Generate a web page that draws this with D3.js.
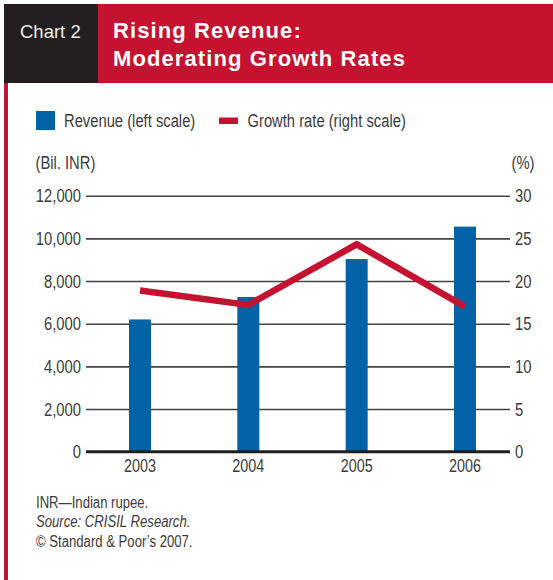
<!DOCTYPE html>
<html>
<head>
<meta charset="utf-8">
<script src="https://cdn.jsdelivr.net/npm/d3@7"></script>
<style>
  body { margin: 0; background: #fff; }
  svg { display: block; }
  .narrow { font-family: "Liberation Sans", Arial, sans-serif; }
</style>
</head>
<body>
<div id="chart"></div>
<script>
// chart data
var years = ["2003", "2004", "2005", "2006"];
var revenue = [6200, 7250, 9030, 10550];      // Bil. INR, left scale
var growth = [18.9, 17.2, 24.3, 17.0];        // %, right scale
var leftTicks = [0, 2000, 4000, 6000, 8000, 10000, 12000];
var rightTicks = [0, 5, 10, 15, 20, 25, 30];

var W = 553, H = 580;
var red = "#c41230", blue = "#0063a6", dark = "#231f20", ink = "#3b3b3b";

var svg = d3.select("#chart").append("svg")
  .attr("width", W).attr("height", H);

// header
svg.append("rect").attr("x", 4).attr("y", 4).attr("width", 94).attr("height", 79).attr("fill", dark);
svg.append("rect").attr("x", 98).attr("y", 4).attr("width", W - 98).attr("height", 79).attr("fill", red);
svg.append("rect").attr("x", 4).attr("y", 83).attr("width", 4).attr("height", H - 83).attr("fill", red);

svg.append("text").attr("x", 20).attr("y", 38.3)
  .attr("fill", "#ececec")
  .style("font-family", "'Liberation Sans', Arial, sans-serif")
  .style("font-size", "18.5px")
  .text("Chart 2");

var title = svg.append("text")
  .attr("fill", "#fff")
  .style("font-family", "'Liberation Sans', Arial, sans-serif")
  .style("font-size", "22px").style("font-weight", "bold")
  .style("letter-spacing", "1.1px");
title.append("tspan").attr("x", 113).attr("y", 37.7).text("Rising Revenue:");
title.append("tspan").attr("x", 113).attr("y", 65.5).text("Moderating Growth Rates");

// legend
svg.append("rect").attr("x", 36).attr("y", 111).attr("width", 19).attr("height", 19).attr("fill", blue);
svg.append("text").attr("class", "narrow").attr("x", 64).attr("y", 127.3)
  .attr("fill", ink).style("font-size", "18px").text("Revenue (left scale)");
svg.append("rect").attr("x", 219).attr("y", 117.5).attr("width", 19).attr("height", 6.5).attr("fill", red);
svg.append("text").attr("class", "narrow").attr("x", 247.5).attr("y", 127.3)
  .attr("fill", ink).style("font-size", "18px").text("Growth rate (right scale)");

// axis units
svg.append("text").attr("class", "narrow").attr("x", 35.5).attr("y", 168.5)
  .attr("fill", ink).style("font-size", "18px").text("(Bil. INR)");
svg.append("text").attr("class", "narrow").attr("x", 511.5).attr("y", 169)
  .attr("fill", ink).style("font-size", "18px").text("(%)");

// scales
var x0 = 86, x1 = 510;
var x = d3.scalePoint().domain(years).range([140, 465]);
var yL = d3.scaleLinear().domain([0, 12000]).range([451.7, 195.7]);
var yR = d3.scaleLinear().domain([0, 30]).range([451.7, 195.7]);

// left axis with gridlines
var gl = svg.append("g").attr("class", "narrow").attr("transform", "translate(" + x0 + ",0)")
  .call(d3.axisLeft(yL).tickValues(leftTicks).tickSizeInner(-(x1 - x0)).tickSizeOuter(0)
    .tickPadding(5).tickFormat(d3.format(",")));
gl.select(".domain").remove();
gl.selectAll(".tick line").attr("stroke", "#444").attr("stroke-width", 1.6);
gl.selectAll(".tick text").attr("fill", ink).style("font-size", "18px").attr("dy", "0.34em");

// right axis labels
var gr = svg.append("g").attr("class", "narrow").attr("transform", "translate(" + x1 + ",0)")
  .call(d3.axisRight(yR).tickValues(rightTicks).tickSize(0).tickPadding(5));
gr.select(".domain").remove();
gr.selectAll(".tick text").attr("fill", ink).style("font-size", "18px").attr("dy", "0.34em");

// bars
var bw = 22;
svg.selectAll(".bar")
  .data(revenue)
  .enter()
  .append("rect")
  .attr("class", "bar")
  .attr("x", function (d, i) { return x(years[i]) - bw / 2; })
  .attr("y", function (d) { return yL(d); })
  .attr("width", bw)
  .attr("height", function (d) { return yL(0) - yL(d); })
  .attr("fill", blue);

// zero baseline
svg.append("line").attr("x1", x0).attr("x2", x1).attr("y1", yL(0)).attr("y2", yL(0))
  .attr("stroke", "#1e1e1e").attr("stroke-width", 3);

// year labels
svg.selectAll(".year")
  .data(years)
  .enter()
  .append("text")
  .attr("class", "year narrow")
  .attr("x", function (d) { return x(d); })
  .attr("y", 472.3)
  .attr("text-anchor", "middle")
  .attr("fill", ink)
  .style("font-size", "17.5px")
  .text(function (d) { return d; });

// growth line
var line = d3.line()
  .x(function (d, i) { return x(years[i]); })
  .y(function (d) { return yR(d); });
svg.append("path")
  .datum(growth)
  .attr("d", line)
  .attr("fill", "none")
  .attr("stroke", red)
  .attr("stroke-width", 6.5)
  .attr("stroke-linejoin", "miter")
  .attr("stroke-linecap", "butt");

// footnotes
var notes = svg.append("g").attr("class", "narrow").attr("fill", ink).style("font-size", "16px");
notes.append("text").attr("x", 36).attr("y", 508.3).text("INR\u2014Indian rupee.");
notes.append("text").attr("x", 36).attr("y", 527.3).style("font-style", "italic").text("Source: CRISIL Research.");
notes.append("text").attr("x", 36).attr("y", 546.7).text("\u00a9 Standard & Poor\u2019s 2007.");

// no narrow font installed: squeeze the regular one to a condensed width
svg.selectAll("text.narrow, .narrow text").each(function () {
  var w = this.getComputedTextLength();
  d3.select(this).attr("textLength", w * 0.82).attr("lengthAdjust", "spacingAndGlyphs");
});
</script>
</body>
</html>
